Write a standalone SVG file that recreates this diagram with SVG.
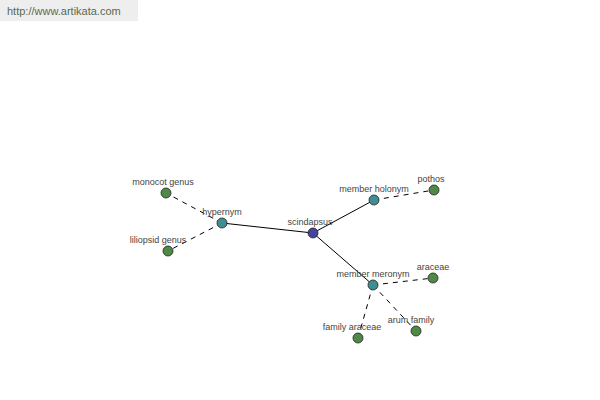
<svg xmlns="http://www.w3.org/2000/svg" width="600" height="400" viewBox="0 0 600 400">
<style>
.lbl{font-family:"Liberation Sans",Arial,sans-serif;font-size:9px;fill:#444;text-anchor:middle}
.n{stroke:#222;stroke-width:0.8}
.blue{fill:#44449a}
.teal{fill:#3e8e92}
.green{fill:#4e8a46}
.solid{stroke:#000;stroke-width:1;fill:none}
.dash{stroke:#000;stroke-width:1;fill:none;stroke-dasharray:5,5}
</style>
<rect x="0" y="0" width="600" height="400" fill="#fff"/>
<rect x="0" y="0" width="138" height="21" fill="#eeeeee"/>
<text x="7" y="15" style="font-family:'Liberation Sans',Arial,sans-serif;font-size:11px;fill:#5a6a50">http://www.artikata.com</text>
<g id="connectors">
<line class="solid" x1="313" y1="233" x2="222" y2="223"/>
<line class="solid" x1="313" y1="233" x2="374" y2="200"/>
<line class="solid" x1="313" y1="233" x2="373" y2="285"/>
<line class="dash" x1="222" y1="223" x2="166" y2="193"/>
<line class="dash" x1="222" y1="223" x2="168" y2="251"/>
<line class="dash" x1="374" y1="200" x2="434" y2="190"/>
<line class="dash" x1="373" y1="285" x2="433" y2="278"/>
<line class="dash" x1="373" y1="285" x2="358" y2="338"/>
<line class="dash" x1="373" y1="285" x2="416" y2="331"/>
</g>
<g id="scindapsus"><circle class="n blue" cx="313" cy="233" r="5"/><text class="lbl" x="310" y="225">scindapsus</text></g>
<g id="hypernym"><circle class="n teal" cx="222" cy="223" r="5"/><text class="lbl" x="222" y="215">hypernym</text></g>
<g id="member-holonym"><circle class="n teal" cx="374" cy="200" r="5"/><text class="lbl" x="374" y="192">member holonym</text></g>
<g id="member-meronym"><circle class="n teal" cx="373" cy="285" r="5"/><text class="lbl" x="373" y="277">member meronym</text></g>
<g id="monocot-genus"><circle class="n green" cx="166" cy="193" r="5"/><text class="lbl" x="163" y="185">monocot genus</text></g>
<g id="liliopsid-genus"><circle class="n green" cx="168" cy="251" r="5"/><text class="lbl" x="158" y="243">liliopsid genus</text></g>
<g id="pothos"><circle class="n green" cx="434" cy="190" r="5"/><text class="lbl" x="431" y="182">pothos</text></g>
<g id="araceae"><circle class="n green" cx="433" cy="278" r="5"/><text class="lbl" x="433" y="270">araceae</text></g>
<g id="family-araceae"><circle class="n green" cx="358" cy="338" r="5"/><text class="lbl" x="352" y="330">family araceae</text></g>
<g id="arum-family"><circle class="n green" cx="416" cy="331" r="5"/><text class="lbl" x="411" y="323">arum family</text></g>
</svg>
